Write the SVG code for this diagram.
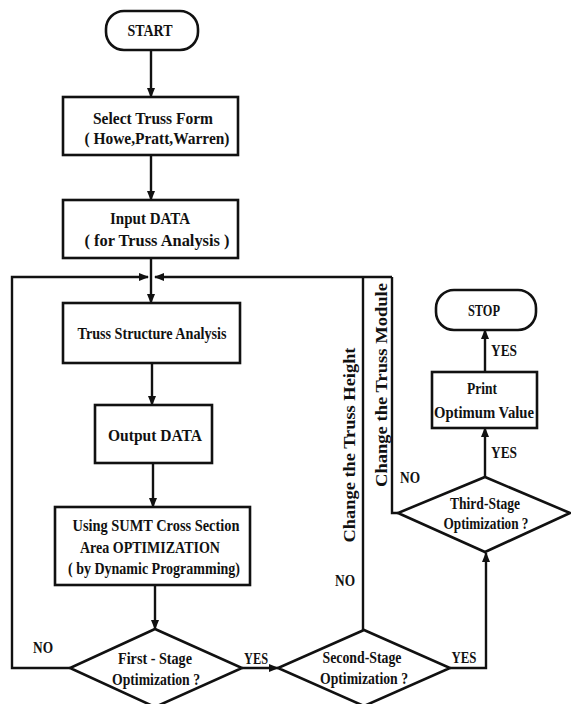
<svg xmlns="http://www.w3.org/2000/svg" width="571" height="704" viewBox="0 0 571 704">
<style>
.box{fill:#fff;stroke:#111;stroke-width:2.6}
.ln{fill:none;stroke:#111;stroke-width:2.4}
.arr{marker-end:url(#ah)}
text{font-family:"Liberation Serif","Times New Roman",serif;font-weight:bold;font-size:16px;fill:#111;text-anchor:middle}
</style>
<defs>
<marker id="ah" markerUnits="userSpaceOnUse" markerWidth="10" markerHeight="8" refX="9" refY="4" orient="auto">
<path d="M0,0 L10,4 L0,8 z" fill="#111"/>
</marker>
</defs>
<rect width="571" height="704" fill="#fff"/>
<g id="connectors">
<line class="ln arr" x1="151" y1="50" x2="151" y2="97"/>
<line class="ln arr" x1="151" y1="155" x2="151" y2="200"/>
<line class="ln" x1="151" y1="258" x2="151" y2="277"/>
<line class="ln arr" x1="151" y1="277" x2="151" y2="303"/>
<polyline class="ln arr" points="70,668 12,668 12,277 148,277"/>
<polyline class="ln arr" points="392,277 155,277"/>
<line class="ln" x1="363" y1="630" x2="363" y2="277"/>
<polyline class="ln" points="398,513 392,513 392,277"/>
<line class="ln arr" x1="152" y1="363" x2="152" y2="405"/>
<line class="ln arr" x1="153" y1="463" x2="153" y2="507"/>
<line class="ln arr" x1="155" y1="585" x2="155" y2="629"/>
<line class="ln arr" x1="242" y1="668" x2="278" y2="668"/>
<polyline class="ln arr" points="450,668 486,668 486,553"/>
<line class="ln arr" x1="485" y1="477" x2="485" y2="428"/>
<line class="ln arr" x1="485" y1="372" x2="485" y2="330"/>
<text x="43" y="653" textLength="20" lengthAdjust="spacingAndGlyphs">NO</text>
<text x="256" y="664" textLength="24" lengthAdjust="spacingAndGlyphs">YES</text>
<text x="345" y="586" textLength="20" lengthAdjust="spacingAndGlyphs">NO</text>
<text x="464" y="663" textLength="25" lengthAdjust="spacingAndGlyphs">YES</text>
<text x="410" y="483" textLength="20" lengthAdjust="spacingAndGlyphs">NO</text>
<text x="504" y="458" textLength="26" lengthAdjust="spacingAndGlyphs">YES</text>
<text x="504" y="356" textLength="26" lengthAdjust="spacingAndGlyphs">YES</text>
<text transform="translate(355,445) rotate(-90)" textLength="195" lengthAdjust="spacingAndGlyphs">Change the Truss Height</text>
<text transform="translate(387,385) rotate(-90)" textLength="204" lengthAdjust="spacingAndGlyphs">Change the Truss Module</text>
</g>
<g id="start">
<rect class="box" x="106" y="11" width="92" height="39" rx="18"/>
<text x="150" y="36" textLength="45" lengthAdjust="spacingAndGlyphs">START</text>
</g>
<g id="select">
<rect class="box" x="63" y="97" width="175" height="58"/>
<text x="153" y="124" textLength="120" lengthAdjust="spacingAndGlyphs">Select Truss Form</text>
<text x="157" y="144" textLength="145" lengthAdjust="spacingAndGlyphs">( Howe,Pratt,Warren)</text>
</g>
<g id="input">
<rect class="box" x="63" y="200" width="175" height="58"/>
<text x="150" y="224" textLength="80" lengthAdjust="spacingAndGlyphs">Input  DATA</text>
<text x="157" y="246" textLength="145" lengthAdjust="spacingAndGlyphs">( for Truss Analysis )</text>
</g>
<g id="analysis">
<rect class="box" x="63" y="303" width="177" height="60"/>
<text x="152" y="339" textLength="149" lengthAdjust="spacingAndGlyphs">Truss Structure Analysis</text>
</g>
<g id="output">
<rect class="box" x="95" y="405" width="117" height="58"/>
<text x="155" y="441" textLength="94" lengthAdjust="spacingAndGlyphs">Output  DATA</text>
</g>
<g id="sumt">
<rect class="box" x="55" y="507" width="195" height="78"/>
<text x="156" y="531" textLength="167" lengthAdjust="spacingAndGlyphs">Using SUMT Cross Section</text>
<text x="150" y="553" textLength="140" lengthAdjust="spacingAndGlyphs">Area OPTIMIZATION</text>
<text x="154" y="574" textLength="172" lengthAdjust="spacingAndGlyphs">( by Dynamic Programming)</text>
</g>
<g id="first-stage">
<polygon class="box" points="155,629 242,668 155,707 70,668"/>
<text x="155" y="664" textLength="74" lengthAdjust="spacingAndGlyphs">First - Stage</text>
<text x="156" y="685" textLength="88" lengthAdjust="spacingAndGlyphs">Optimization ?</text>
</g>
<g id="second-stage">
<polygon class="box" points="364,630 450,668 364,706 278,668"/>
<text x="362" y="663" textLength="79" lengthAdjust="spacingAndGlyphs">Second-Stage</text>
<text x="364" y="684" textLength="88" lengthAdjust="spacingAndGlyphs">Optimization ?</text>
</g>
<g id="third-stage">
<polygon class="box" points="485,477 570,513 485,552 398,513"/>
<text x="485" y="509" textLength="70" lengthAdjust="spacingAndGlyphs">Third-Stage</text>
<text x="486" y="529" textLength="85" lengthAdjust="spacingAndGlyphs">Optimization ?</text>
</g>
<g id="print">
<rect class="box" x="432" y="372" width="105" height="56"/>
<text x="482" y="394" textLength="30" lengthAdjust="spacingAndGlyphs">Print</text>
<text x="484" y="418" textLength="100" lengthAdjust="spacingAndGlyphs">Optimum Value</text>
</g>
<g id="stop">
<rect class="box" x="436" y="290" width="100" height="40" rx="18"/>
<text x="484" y="316" textLength="32" lengthAdjust="spacingAndGlyphs">STOP</text>
</g>
</svg>
